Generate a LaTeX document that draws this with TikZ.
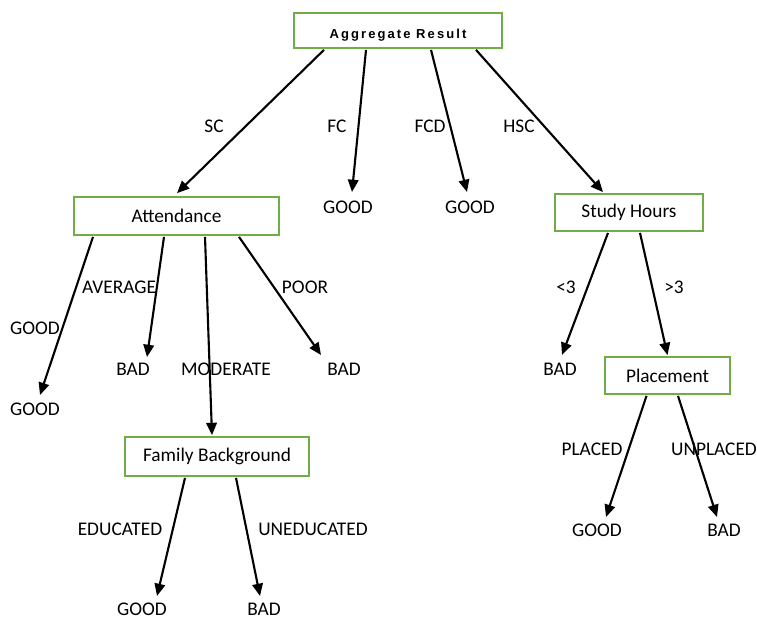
\documentclass[tikz,border=0pt]{standalone}
\usepackage{fontspec}
\setmainfont{Carlito}
\newfontfamily\rootfont[LetterSpace=16]{Liberation Sans}
\usetikzlibrary{arrows.meta, calc}
\definecolor{boxG}{RGB}{112,173,71}
\tikzset{
  box/.style     ={draw=boxG, line width=1pt, inner sep=0pt, fill=white,
                   font=\fontsize{11}{13}\selectfont},
  leaf/.style    ={inner sep=0pt, font=\fontsize{11}{13}\selectfont},
  edgelbl/.style ={inner sep=0pt, font=\fontsize{11}{13}\selectfont},
  branch/.style  ={-{Triangle[length=7pt, width=6pt]}, line width=1.2pt},
}

\begin{document}
\begin{tikzpicture}[x=0.02cm, y=-0.02cm]
\useasboundingbox (0,0) rectangle (757,619);

% --- decision boxes ---
\node[box, minimum width=4.16cm, minimum height=0.7cm] (root) at (398, 30.5)
  {\raisebox{-4.8pt}[0pt][0pt]{\rootfont\fontsize{7.4}{8}\selectfont\bfseries Aggregate Result}};
\node[box, minimum width=4.1cm, minimum height=0.76cm]  (att)   at (176.5, 216) {Attendance};
\node[box, minimum width=2.96cm, minimum height=0.74cm] (study) at (629, 212.5) {Study Hours};
\node[box, minimum width=3.68cm, minimum height=0.78cm] (fam)   at (217, 456.5) {Family Background};
\node[box, minimum width=2.5cm, minimum height=0.74cm]  (place) at (667.5, 375.5) {Placement};

% --- leaves ---
\node[leaf] (goodFC)   at (348, 207) {GOOD};
\node[leaf] (goodFCD)  at (470, 207) {GOOD};
\node[leaf] (goodAtt)  at (35, 409)  {GOOD};
\node[leaf] (badAvg)   at (133, 369) {BAD};
\node[leaf] (badPoor)  at (344, 369) {BAD};
\node[leaf] (badLess)  at (560, 369) {BAD};
\node[leaf] (goodEdu)  at (142, 609) {GOOD};
\node[leaf] (badUnedu) at (264, 609) {BAD};
\node[leaf] (goodPl)   at (597, 530) {GOOD};
\node[leaf] (badUnpl)  at (724, 530) {BAD};

% --- branch labels ---
\node[edgelbl] (lSC)   at (214, 126) {SC};
\node[edgelbl] (lFC)   at (337, 126) {FC};
\node[edgelbl] (lFCD)  at (430, 126) {FCD};
\node[edgelbl] (lHSC)  at (519, 126) {HSC};
\node[edgelbl] (lAvg)  at (119, 287) {AVERAGE};
\node[edgelbl] (lGood) at (35, 328)  {GOOD};
\node[edgelbl] (lMod)  at (226, 369) {MODERATE};
\node[edgelbl] (lPoor) at (305, 287) {POOR};
\node[edgelbl] (lLess) at (566, 287) {<3};
\node[edgelbl] (lMore) at (674, 287) {>3};
\node[edgelbl] (lEdu)  at (120, 529) {EDUCATED};
\node[edgelbl] (lUned) at (313, 529) {UNEDUCATED};
\node[edgelbl] (lPl)   at (592, 449) {PLACED};
\node[edgelbl] (lUnpl) at (714, 449) {UNPLACED};

% --- root branches ---
\draw[branch] ($(root.south)+(-74,1)$) -- ($(att.north)+(0.5,-3)$);
\draw[branch] ($(root.south)+(-32,1)$) -- ($(goodFC)+(4,-15)$);
\draw[branch] ($(root.south)+(33,1)$)  -- ($(goodFCD)+(-3,-15)$);
\draw[branch] ($(root.south)+(78,1)$)  -- ($(study.north)+(-26,-1)$);

% --- attendance branches ---
\draw[branch] ($(att.south)+(-83.5,1)$) -- ($(goodAtt)+(5,-14)$);
\draw[branch] ($(att.south)+(-12.5,1)$) -- ($(badAvg)+(14,-12)$);
\draw[branch] ($(att.south)+(28.5,1)$)  -- ($(fam.north)+(-5,-1)$);
\draw[branch] ($(att.south)+(62.5,1)$)  -- ($(badPoor)+(-23,-14)$);

% --- study hours branches ---
\draw[branch] ($(study.south)+(-21,1)$) -- ($(badLess)+(2,-14)$);
\draw[branch] ($(study.south)+(11,1)$)  -- ($(place.north)+(0,-1)$);

% --- family background branches ---
\draw[branch] ($(fam.south)+(-32,1)$) -- ($(goodEdu)+(15,-13)$);
\draw[branch] ($(fam.south)+(19,1)$)  -- ($(badUnedu)+(-4,-13)$);

% --- placement branches ---
\draw[branch] ($(place.south)+(-21,1)$)  -- ($(goodPl)+(9,-13)$);
\draw[branch] ($(place.south)+(10.5,1)$) -- ($(badUnpl)+(-7,-13)$);

\end{tikzpicture}
\end{document}
